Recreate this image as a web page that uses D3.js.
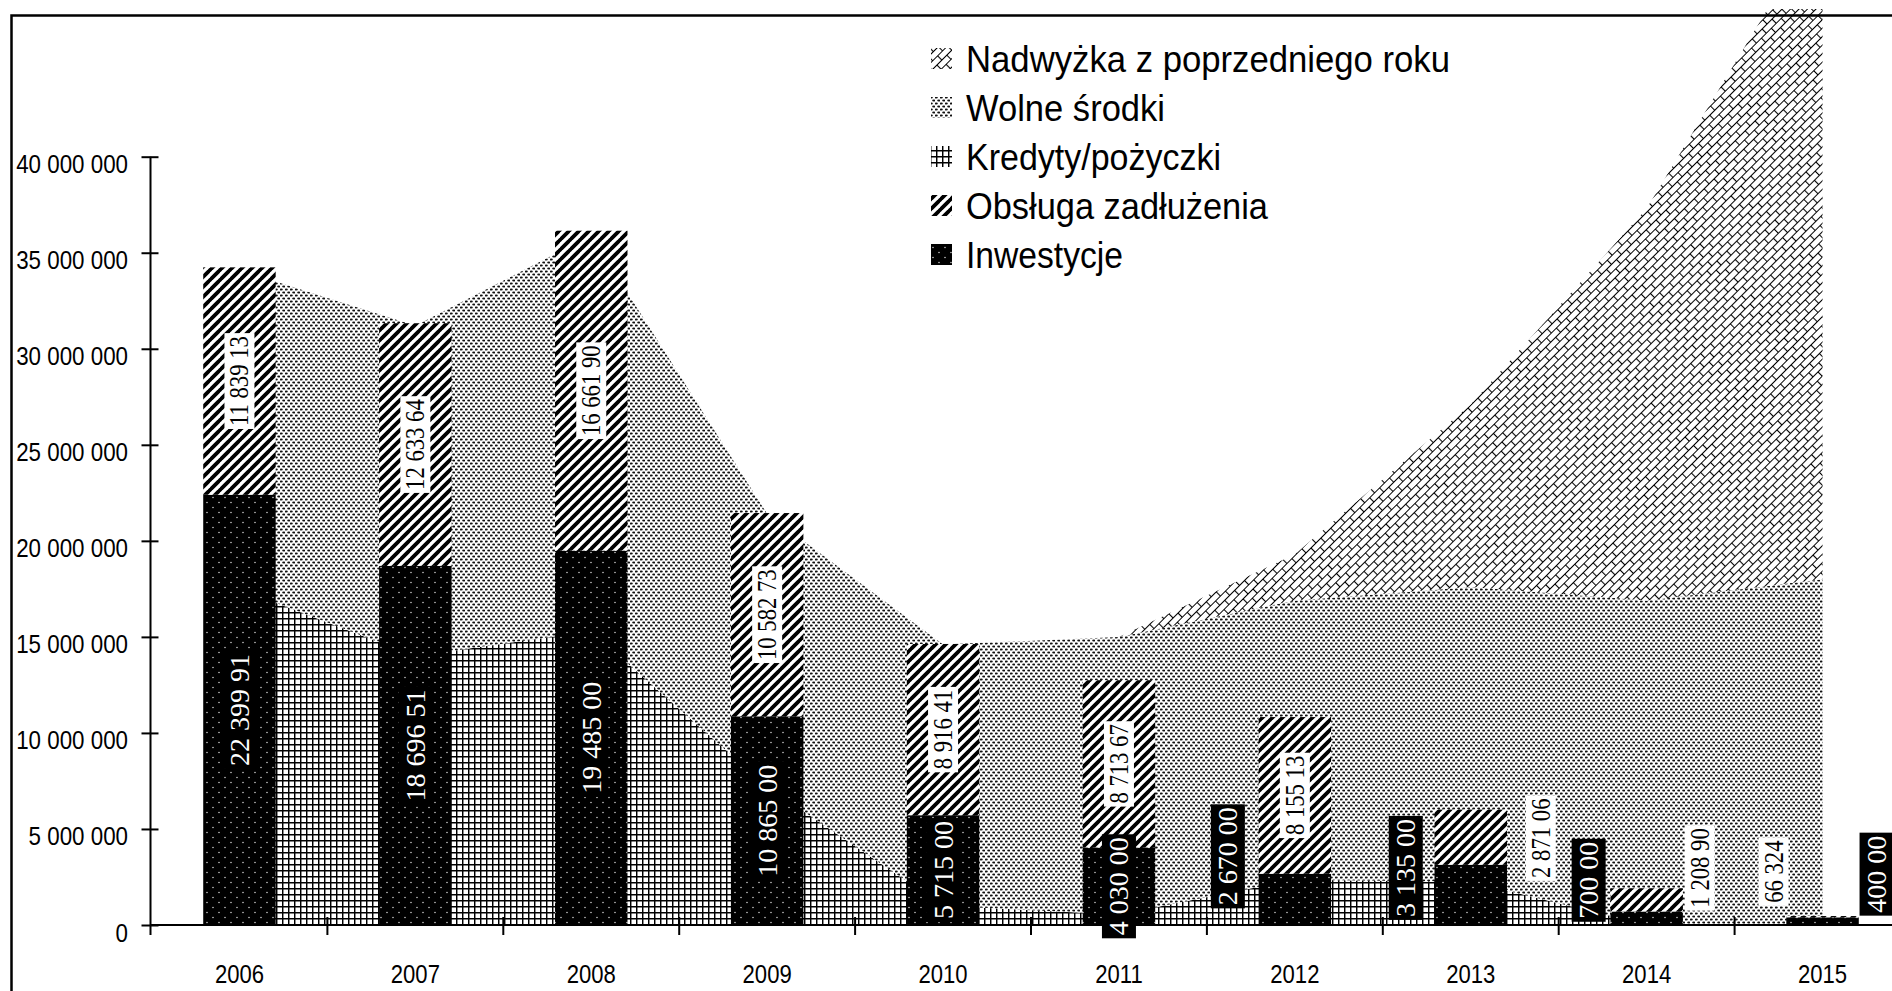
<!DOCTYPE html>
<html><head><meta charset="utf-8">
<script src="https://cdn.jsdelivr.net/npm/d3@7"></script>
<style>
html,body{margin:0;padding:0;background:#fff;}
svg{display:block;}
</style></head><body>
<svg id="chart" width="1892" height="991"></svg>
<script>
// ---------- data ----------
const years = ["2006","2007","2008","2009","2010","2011","2012","2013","2014","2015"];
const inwestycje = [22399914, 18696510, 19485000, 10865000, 5715000, 4030000, 2670000, 3135000, 700000, 400000];
const obsluga    = [11839130, 12633640, 16661900, 10582730, 8916410, 8713670, 8155130, 2871060, 1208900, 66324];
const kredyty    = [17500000, 14000000, 15300000, 7200000, 1000000, 550000, 2350000, 2250000, 0, 0];
const wolneSrodki= [16600000, 17200000, 20600000, 14200000, 13600000, 14450000, 14550000, 15350000, 16900000, 18000000];
const nadwyzka   = [0, 0, 0, 0, 0, 0, 2400000, 9500000, 20400000, 34400000];
const yTicks = [0, 5000000, 10000000, 15000000, 20000000, 25000000, 30000000, 35000000, 40000000];
const legendLabels = ["Nadwyżka z poprzedniego roku", "Wolne środki", "Kredyty/pożyczki", "Obsługa zadłużenia", "Inwestycje"];
const inwLabels = ["22 399 91","18 696 51","19 485 00","10 865 00","5 715 00","4 030 00","2 670 00","3 135 00","700 00","400 00"];
const obsLabels = ["11 839 13","12 633 64","16 661 90","10 582 73","8 916 41","8 713 67","8 155 13","2 871 06","1 208 90","66 324"];
// label placement nudges (px)
const inwLabelDx = [0,0,0,0,0,0,-67,-65,-58,54];
const inwLabelDy = [0,0,0,0,0,0,-43,-27,-38,-47];
const obsLabelDx = [0,0,0,0,0,0,0,70,53,-49];
const obsLabelDy = [0,0,0,0,0,0,0,1,-32,-45];
// legend text widths (px)
const legendWidths = [484, 199, 255, 302, 157];

// ---------- setup ----------
const W = 1892, H = 991;
const svg = d3.select("#chart");
const sans = "'Liberation Sans', Arial, Helvetica, sans-serif";
const serif = "'Liberation Serif', 'Times New Roman', serif";

const x = d3.scaleBand().domain(years).range([151.5, 1910.5]).padding(0);
const y = d3.scaleLinear().domain([0, 40000000]).range([925, 156.7]);
const cx = yr => x(yr) + x.bandwidth() / 2;
const bw = x.bandwidth() * 0.412;
const loc = d3.formatLocale({decimal: ",", thousands: " ", grouping: [3], currency: ["", ""]});
const fmt = loc.format(",");

// ---------- patterns ----------
const defs = svg.append("defs");
function pat(id, w, h, extra) {
  const p = defs.append("pattern").attr("id", id).attr("patternUnits", "userSpaceOnUse")
    .attr("width", w).attr("height", h);
  if (extra) p.attr("patternTransform", extra);
  return p;
}
// Inwestycje: black with light dots
let p = pat("pInw", 12, 10);
p.append("rect").attr("width", 12).attr("height", 10).attr("fill", "#000");
p.append("circle").attr("cx", 3).attr("cy", 2.5).attr("r", 0.8).attr("fill", "#c8c8c8");
p.append("circle").attr("cx", 9).attr("cy", 7.5).attr("r", 0.8).attr("fill", "#c8c8c8");
// Obsługa: wide diagonal stripes
p = pat("pObs", 10, 10);
p.append("rect").attr("width", 10).attr("height", 10).attr("fill", "#fff");
p.append("path").attr("d", "M-1,1 L1,-1 M0,10 L10,0 M9,11 L11,9").attr("stroke", "#000").attr("stroke-width", 3.8);
// Kredyty: small grid
p = pat("pKred", 6, 6);
p.append("rect").attr("width", 6).attr("height", 6).attr("fill", "#fff");
p.append("path").attr("d", "M0,0.7 H6 M0.7,0 V6").attr("stroke", "#000").attr("stroke-width", 1.5);
// Wolne środki: fine dotted
p = pat("pWolne", 5, 6);
p.append("rect").attr("width", 5).attr("height", 6).attr("fill", "#fff");
p.append("ellipse").attr("cx", 1.25).attr("cy", 1.5).attr("rx", 1.6).attr("ry", 1.0).attr("fill", "#111");
p.append("ellipse").attr("cx", 3.75).attr("cy", 4.5).attr("rx", 1.6).attr("ry", 1.0).attr("fill", "#111");
// Nadwyżka: diagonal brick
p = pat("pNadw", 14, 12, "rotate(-45)");
p.append("rect").attr("width", 14).attr("height", 12).attr("fill", "#fff");
p.append("path").attr("d", "M0,0.5 H14 M0,6.5 H14 M0.5,0.5 V6.5 M7.5,6.5 V12.5")
  .attr("stroke", "#000").attr("stroke-width", 1.1).attr("fill", "none");

defs.append("clipPath").attr("id", "plotClip").append("rect")
  .attr("x", 13).attr("y", 9).attr("width", W).attr("height", H);

// ---------- areas ----------
const rows = years.map((yr, i) => ({year: yr, kredyty: kredyty[i], wolne: wolneSrodki[i], nadwyzka: nadwyzka[i]}));
const stacked = d3.stack().keys(["kredyty", "wolne", "nadwyzka"])(rows);
const fills = {kredyty: "url(#pKred)", wolne: "url(#pWolne)", nadwyzka: "url(#pNadw)"};
const area = d3.area().x(d => cx(d.data.year)).y0(d => y(d[0])).y1(d => y(d[1]));
const plot = svg.append("g").attr("clip-path", "url(#plotClip)");
plot.selectAll("path.area").data(stacked).join("path").attr("class", "area")
  .attr("d", area).attr("fill", s => fills[s.key]);

// ---------- bars ----------
const barRows = years.map((yr, i) => ({year: yr, inv: inwestycje[i], obs: obsluga[i], i}));
plot.selectAll("rect.inv").data(barRows).join("rect").attr("class", "inv")
  .attr("x", d => cx(d.year) - bw / 2).attr("width", bw)
  .attr("y", d => y(d.inv)).attr("height", d => y(0) - y(d.inv))
  .attr("fill", "url(#pInw)");
plot.selectAll("rect.obs").data(barRows).join("rect").attr("class", "obs")
  .attr("x", d => cx(d.year) - bw / 2).attr("width", bw)
  .attr("y", d => y(d.inv + d.obs)).attr("height", d => y(d.inv) - y(d.inv + d.obs))
  .attr("fill", "url(#pObs)");

// ---------- axes ----------
const axisX0 = x.range()[0] - 1;
// y axis
const gy = svg.append("g").attr("transform", `translate(${axisX0},0)`)
  .call(d3.axisLeft(y).tickValues(yTicks).tickSize(9).tickFormat(fmt));
gy.attr("font-family", sans).attr("font-size", 26);
gy.select(".domain").remove();
gy.selectAll(".tick line").attr("x1", 8).attr("stroke", "#000").attr("stroke-width", 2);
gy.selectAll(".tick text").attr("x", 0).attr("dy", null).attr("fill", "#000")
  .attr("text-anchor", "end").attr("transform", "translate(-22.5,16) scale(0.86,1)");
svg.append("line").attr("x1", axisX0).attr("x2", axisX0)
  .attr("y1", y(40000000)).attr("y2", y(0) + 10).attr("stroke", "#000").attr("stroke-width", 2);

// x axis
svg.append("line").attr("x1", axisX0).attr("x2", W).attr("y1", y(0)).attr("y2", y(0))
  .attr("stroke", "#000").attr("stroke-width", 2);
const bounds = years.slice(1).map(yr => x(yr)).concat([x.range()[1]]);
svg.selectAll("line.xt").data(bounds).join("line").attr("class", "xt")
  .attr("x1", d => d).attr("x2", d => d).attr("y1", y(0) - 8).attr("y2", y(0) + 10)
  .attr("stroke", "#000").attr("stroke-width", 2);
const gx = svg.append("g").attr("transform", `translate(0,${y(0)})`)
  .call(d3.axisBottom(x).tickSize(0).tickSizeOuter(0));
gx.attr("font-family", sans).attr("font-size", 26);
gx.select(".domain").remove();
gx.selectAll(".tick text").attr("y", 0).attr("dy", null).attr("fill", "#000")
  .attr("transform", "translate(0,58) scale(0.85,1)");

// ---------- bar labels ----------
const lab = svg.append("g").attr("clip-path", "url(#plotClip)");
function drawLabel(cxp, cyp, text, dark) {
  const g = lab.append("g").attr("transform", `translate(${cxp},${cyp}) rotate(-90)`);
  const t = g.append("text").text(text).attr("text-anchor", "middle").attr("dominant-baseline", "central")
    .attr("font-family", serif).attr("font-size", dark ? 28 : 27).attr("fill", dark ? "#fff" : "#000");
  const nat = t.node().getComputedTextLength();
  const len = dark ? nat : nat * 0.84;
  if (!dark) t.attr("textLength", len).attr("lengthAdjust", "spacingAndGlyphs");
  const bh = len + 6, bwid = dark ? 34 : 30;
  g.insert("rect", "text").attr("x", -bh / 2).attr("y", -bwid / 2)
    .attr("width", bh).attr("height", bwid).attr("fill", dark ? "#000" : "#fff");
}
barRows.forEach(d => {
  const c = cx(d.year);
  const inwMid = (y(0) + y(d.inv)) / 2;
  const obsMid = (y(d.inv) + y(d.inv + d.obs)) / 2;
  drawLabel(c + obsLabelDx[d.i], obsMid + obsLabelDy[d.i], obsLabels[d.i], false);
  drawLabel(c + inwLabelDx[d.i], inwMid + inwLabelDy[d.i], inwLabels[d.i], true);
});

// ---------- legend ----------
const legFills = ["url(#pNadw)", "url(#pWolne)", "url(#pKred)", "url(#pObs)", "url(#pInw)"];
const leg = svg.append("g");
legendLabels.forEach((t, i) => {
  const base = 72 + i * 49;
  leg.append("rect").attr("x", 931).attr("y", base - 24).attr("width", 21).attr("height", 21)
    .attr("fill", legFills[i]);
  leg.append("text").attr("x", 966).attr("y", base).text(t)
    .attr("font-family", sans).attr("font-size", 36).attr("fill", "#000")
    .attr("textLength", legendWidths[i]).attr("lengthAdjust", "spacingAndGlyphs");
});

// ---------- frame ----------
svg.append("path").attr("d", `M11.5,${H} V15.5 H${W}`).attr("fill", "none")
  .attr("stroke", "#000").attr("stroke-width", 2.5);
</script>
</body></html>
